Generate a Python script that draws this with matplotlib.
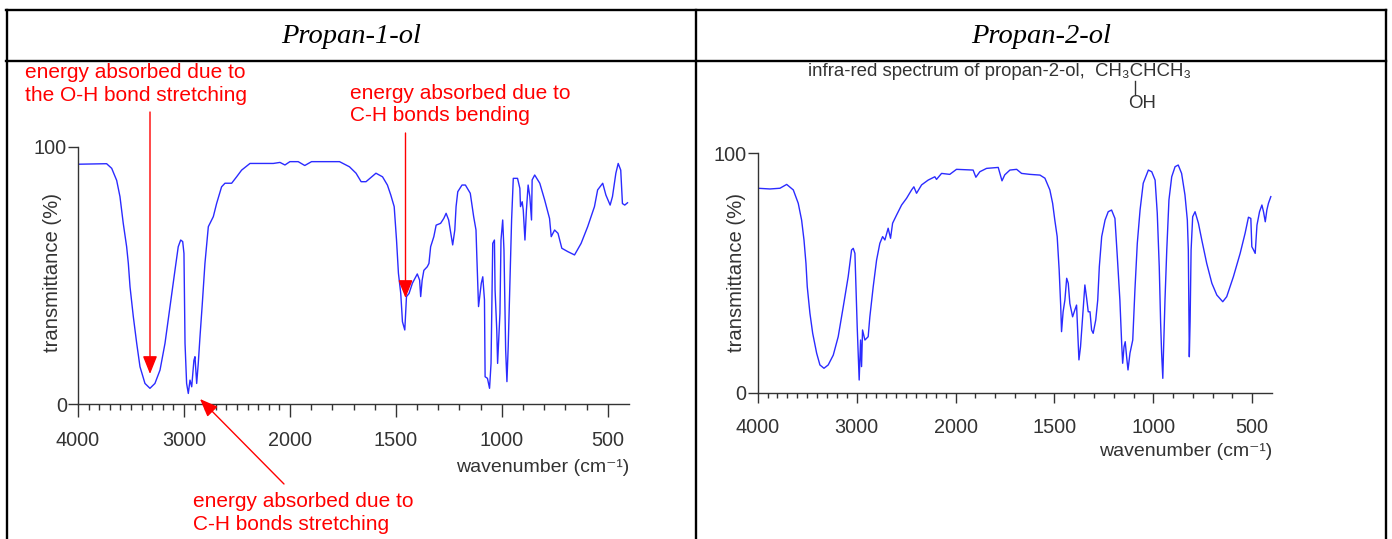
import numpy as np
import matplotlib
matplotlib.use('Agg')
import matplotlib.pyplot as plt
from matplotlib.lines import Line2D
from matplotlib.patches import FancyArrowPatch
from matplotlib.ticker import FixedLocator, NullFormatter

# ---------------- data ----------------
headers = ["Propan-1-ol", "Propan-2-ol"]
major_ticks = [4000, 3000, 2000, 1500, 1000, 500]
tick_labels = ["4000", "3000", "2000", "1500", "1000", "500"]

w1 = [4000, 3730, 3682, 3635, 3604, 3573, 3541, 3525, 3509, 3478,
      3446, 3415, 3368, 3321, 3274, 3226, 3179, 3132, 3085, 3054,
      3031, 3012, 3000, 2990, 2975, 2959, 2943, 2927, 2906, 2896,
      2880, 2865, 2849, 2827, 2802, 2770, 2723, 2692, 2645, 2613,
      2550, 2503, 2456, 2377, 2157, 2094, 2047, 2000, 1961, 1930,
      1898, 1766, 1719, 1688, 1664, 1641, 1594, 1563, 1540, 1524,
      1508, 1497, 1488, 1477, 1469, 1458, 1450, 1438, 1422, 1399,
      1388, 1383, 1376, 1368, 1352, 1344, 1336, 1321, 1310, 1289,
      1274, 1263, 1251, 1238, 1232, 1222, 1216, 1208, 1188, 1172,
      1149, 1133, 1122, 1118, 1110, 1097, 1090, 1082, 1079, 1068,
      1058, 1051, 1043, 1035, 1032, 1024, 1020, 1009, 1004, 996,
      990, 982, 976, 970, 962, 954, 946, 926, 915, 912,
      904, 899, 891, 884, 876, 868, 860, 857, 845, 821,
      798, 775, 767, 751, 735, 717, 689, 657, 626, 595,
      563, 548, 524, 509, 489, 478, 462, 451, 439, 431,
      420, 407]
t1 = [93.3, 93.5, 91.7, 87, 80.7, 70.3, 61.2, 54.7, 45.6, 34,
      23.6, 14.5, 8, 6.1, 8, 13.2, 23.6, 37.9, 52, 61.2,
      63.8, 63.2, 58.6, 23.6, 8, 4.1, 9.3, 6.7, 17, 18.4,
      8, 15.8, 26, 39, 54.7, 69, 72.9, 78, 84.5, 85.9,
      85.9, 88.4, 91, 93.6, 93.6, 94, 93, 94.3, 94.3, 92.8,
      94.3, 94.3, 92.3, 89.8, 86.5, 86.5, 89.8, 88.4, 85.2, 81.3,
      76.8, 63.8, 50.9, 43, 32, 28.8, 41.8, 43, 47, 50.6,
      48.2, 41.8, 48.2, 52, 53.4, 54.7, 61.2, 65.1, 69.6, 70.3,
      72.2, 74.2, 71.6, 65.1, 61.9, 67.7, 76.8, 82.6, 85.2, 85.2,
      82, 72.9, 67.7, 57.3, 37.9, 47, 49.5, 40.5, 10.6, 10,
      6.1, 15.8, 62.5, 63.8, 44.4, 28.8, 15.8, 35.3, 63.8, 71.6,
      60, 21, 8.7, 22.3, 47, 71.6, 87.8, 87.8, 83.9, 76.8,
      78.7, 75.5, 63.8, 75.5, 85.2, 80.7, 71.6, 87.2, 89.1, 85.9,
      79.4, 72.2, 65.1, 67.7, 66.4, 60.6, 59.3, 58, 62.5, 69,
      76.8, 83.3, 85.9, 81.3, 77.4, 80.7, 89.8, 93.6, 91, 78,
      77.4, 78.3]

w2 = [4000, 3876, 3775, 3707, 3640, 3590, 3556, 3532, 3512, 3499,
      3472, 3444, 3404, 3371, 3330, 3287, 3236, 3186, 3135, 3085,
      3051, 3034, 3017, 3007, 2994, 2974, 2960, 2950, 2940, 2916,
      2883, 2866, 2832, 2798, 2765, 2737, 2714, 2681, 2657, 2636,
      2596, 2545, 2495, 2444, 2421, 2394, 2343, 2277, 2209, 2192,
      2141, 2058, 1995, 1911, 1897, 1877, 1843, 1784, 1765, 1751,
      1725, 1691, 1666, 1624, 1573, 1548, 1523, 1509, 1498, 1486,
      1476, 1468, 1464, 1456, 1447, 1438, 1430, 1422, 1408, 1397,
      1388, 1380, 1376, 1368, 1362, 1354, 1346, 1337, 1329, 1320,
      1312, 1304, 1291, 1281, 1273, 1261, 1244, 1228, 1211, 1194,
      1182, 1169, 1160, 1155, 1148, 1142, 1135, 1128, 1118, 1104,
      1093, 1081, 1067, 1051, 1025, 1008, 991, 980, 970, 963,
      958, 952, 949, 941, 932, 921, 907, 890, 874, 857,
      840, 828, 823, 818, 814, 809, 801, 789, 772, 755,
      730, 704, 679, 649, 629, 595, 561, 536, 519, 507,
      502, 493, 485, 476, 463, 451, 443, 434, 426, 418,
      406]
t2 = [85.4, 85.1, 85.4, 87, 84.7, 79.1, 72.1, 63.8, 54, 44.3,
      33.2, 24.8, 16.5, 11.6, 10.2, 11.6, 15.7, 23.4, 35.9, 48.5,
      59.6, 60.3, 58.2, 44.3, 27.6, 5.3, 22, 10.9, 26.2, 22,
      23.4, 31.7, 44.3, 55.4, 62.4, 65.2, 63.8, 68.7, 64.5, 70.8,
      74.2, 78.4, 81.2, 84.7, 86, 83.3, 86.8, 88.8, 90.2, 89.1,
      91.6, 91.2, 93.3, 93, 90, 92.3, 93.7, 94.1, 88.5, 91,
      93, 93.3, 91.6, 91.2, 90.9, 89.6, 84.7, 79.1, 72.1, 65.2,
      51.3, 35.9, 25.5, 33.8, 38.7, 47.8, 45.7, 37.3, 31.7, 34.5,
      36.6, 22, 13.7, 19.2, 26.2, 35.9, 45, 39.4, 33.8, 33.8,
      26.2, 24.8, 30.4, 38.7, 52.6, 65.2, 72.1, 75.6, 76.3, 72.8,
      56.8, 38.7, 20.6, 12.3, 19.2, 21.3, 15, 9.5, 16.5, 22,
      42.9, 62.4, 76.3, 87.5, 93, 92.3, 88.8, 74.9, 52.6, 29,
      16.5, 6, 15.7, 38.7, 59.6, 80.5, 90.2, 94.4, 95.1, 91.6,
      82.6, 72.1, 59.6, 15, 29.7, 59.6, 73.5, 75.6, 70.8, 63.8,
      54, 45.7, 40.8, 38, 40.1, 48.5, 58.2, 66.6, 73.3, 72.8,
      61, 59.6, 58.2, 70, 75.6, 78.4, 75.6, 71.4, 76.3, 79.1,
      81.9]

# ---------------- helpers ----------------
W, H = 1392, 539
SANS = ['Liberation Sans', 'DejaVu Sans']
GREY = '#333333'


def fwd(w):
    w = np.asarray(w, dtype=float)
    return np.where(w < 2000, w / 500.0, 4.0 + (w - 2000.0) / 1000.0)


def inv(u):
    u = np.asarray(u, dtype=float)
    return np.where(u < 4, u * 500.0, 2000.0 + (u - 4.0) * 1000.0)


def fx(x):
    return x / W


def fy(y):
    return 1 - y / H


fig = plt.figure(figsize=(W / 100, H / 100), dpi=100)
fig.patch.set_facecolor('white')


def hline(y, x0, x1):
    fig.add_artist(Line2D([fx(x0), fx(x1)], [fy(y), fy(y)], color='black', lw=1.7,
                          transform=fig.transFigure, solid_capstyle='projecting'))


def vline(x, y0, y1):
    fig.add_artist(Line2D([fx(x), fx(x)], [fy(y0), fy(y1)], color='black', lw=1.7,
                          transform=fig.transFigure, solid_capstyle='projecting'))


hline(10, 6, 1386)
hline(61, 6, 1386)
vline(6.5, 10, 545)
vline(695.7, 10, 545)
vline(1385.7, 10, 545)

fig.text(fx(351), fy(36), headers[0], ha='center', va='center', fontsize=20.5,
         family='Liberation Serif', style='italic', color='black')
fig.text(fx(1041), fy(36), headers[1], ha='center', va='center', fontsize=20.5,
         family='Liberation Serif', style='italic', color='black')

minor = [v for v in range(500, 4000, 100) if v not in major_ticks]


def make_axes(rect, w, t, maj_len, min_len, pad):
    ax = fig.add_axes(rect)
    ax.set_xscale('function', functions=(fwd, inv))
    ax.plot(w, t, color='#2b2bff', lw=1.0)
    ax.set_xlim(4000, 400)
    ax.set_ylim(0, 100)
    for s in ['top', 'right']:
        ax.spines[s].set_visible(False)
    for s in ['left', 'bottom']:
        ax.spines[s].set_color(GREY)
        ax.spines[s].set_linewidth(1.0)
    ax.xaxis.set_major_locator(FixedLocator(major_ticks))
    ax.xaxis.set_minor_locator(FixedLocator(minor))
    ax.set_xticklabels(tick_labels)
    ax.xaxis.set_minor_formatter(NullFormatter())
    ax.set_yticks([0, 100])
    ax.set_yticklabels(['0', '100'])
    ax.tick_params(axis='x', which='major', length=maj_len, width=1, color=GREY,
                   labelcolor=GREY, labelsize=14.3, pad=pad)
    ax.tick_params(axis='x', which='minor', length=min_len, width=1, color=GREY)
    ax.tick_params(axis='y', which='major', length=7, width=1, color=GREY,
                   labelcolor=GREY, labelsize=14.3, pad=1)
    for lab in ax.get_xticklabels() + ax.get_yticklabels():
        lab.set_family(SANS)
    return ax


ax1 = make_axes([fx(78), fy(404), (629 - 78) / W, (404 - 147) / H], w1, t1, 9, 4, 10.5)
ax2 = make_axes([fx(757.7), fy(392.7), (1272 - 757.7) / W, (392.7 - 153.3) / H], w2, t2, 7.5, 3.5, 11)

# axis labels
fig.text(fx(52), fy(272), 'transmittance (%)', rotation=90, ha='center', va='center',
         fontsize=14.6, family=SANS, color=GREY)
fig.text(fx(736), fy(272), 'transmittance (%)', rotation=90, ha='center', va='center',
         fontsize=14.6, family=SANS, color=GREY)
fig.text(fx(629), fy(468), 'wavenumber (cm\u207b\u00b9)', ha='right', va='center',
         fontsize=14, family=SANS, color=GREY)
fig.text(fx(1272), fy(452), 'wavenumber (cm\u207b\u00b9)', ha='right', va='center',
         fontsize=14, family=SANS, color=GREY)

# right panel title with structural formula
title_fs = 13.4
prefix = 'infra-red spectrum of propan-2-ol,  CH\u2083'
fig.text(fx(808), fy(72), prefix + 'CHCH\u2083', ha='left',
         va='center', fontsize=title_fs, family=SANS, color=GREY)
renderer = fig.canvas.get_renderer()
tmp = fig.text(fx(808), fy(72), prefix, ha='left', va='center', fontsize=title_fs,
               family=SANS, alpha=0)
tmpc = fig.text(fx(808), fy(72), 'C', ha='left', va='center', fontsize=title_fs,
                family=SANS, alpha=0)
tmpo = fig.text(fx(808), fy(72), 'O', ha='left', va='center', fontsize=title_fs,
                family=SANS, alpha=0)
x_pref = tmp.get_window_extent(renderer).x1
cw = tmpc.get_window_extent(renderer).width
ow = tmpo.get_window_extent(renderer).width
tmp.remove()
tmpc.remove()
tmpo.remove()
xc = x_pref + cw / 2.0 - 1.0  # pixels from left
fig.add_artist(Line2D([xc / W, xc / W], [fy(81), fy(95)], color=GREY, lw=1,
                      transform=fig.transFigure))
fig.text((xc - ow / 2.0) / W, fy(104), 'OH', ha='left', va='center', fontsize=title_fs,
         family=SANS, color=GREY)

# red annotations
red = '#ff0000'
ann_fs = 15
fig.text(fx(25), fy(84), 'energy absorbed due to\nthe O-H bond stretching', ha='left',
         va='center', fontsize=ann_fs, family=SANS, color=red, linespacing=1.23)
fig.text(fx(350), fy(104.5), 'energy absorbed due to\nC-H bonds bending', ha='left',
         va='center', fontsize=ann_fs, family=SANS, color=red, linespacing=1.23)
fig.text(fx(193), fy(513), 'energy absorbed due to\nC-H bonds stretching', ha='left',
         va='center', fontsize=ann_fs, family=SANS, color=red, linespacing=1.23)


def arrow(x0, y0, x1, y1):
    fig.add_artist(FancyArrowPatch((fx(x0), fy(y0)), (fx(x1), fy(y1)),
                                   transform=fig.transFigure,
                                   arrowstyle='-|>,head_length=0.55,head_width=0.22',
                                   mutation_scale=20, color=red, lw=1,
                                   shrinkA=0, shrinkB=0))


arrow(150, 112, 150, 374)
arrow(405.5, 133, 405.5, 298)
arrow(284, 484, 200, 399)

fig.savefig('out.png', dpi=100, facecolor='white')
